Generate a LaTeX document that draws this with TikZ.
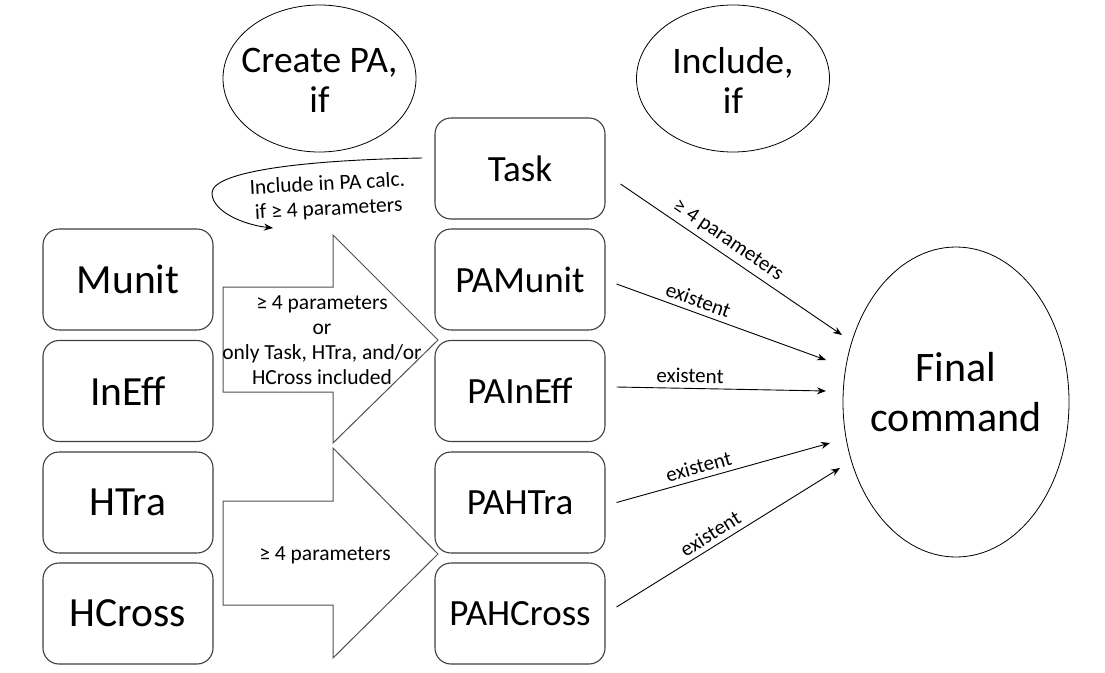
\documentclass[tikz,border=0pt]{standalone}
\usepackage{fontspec}
\setmainfont{Carlito}
\usetikzlibrary{shapes.geometric,arrows.meta,calc}
\definecolor{boxgray}{HTML}{404040}
\definecolor{arrgray}{HTML}{505050}
\begin{document}
\begin{tikzpicture}[x=1pt,y=-1pt,
  box/.style={draw=boxgray, line width=1.1pt, rounded corners=16pt, minimum width=170pt, minimum height=101pt, inner sep=0pt},
  lbox/.style={box, font=\fontsize{41.5}{48}\selectfont},
  mbox/.style={box, font=\fontsize{37}{42}\selectfont},
  bigarrow/.style={draw=arrgray, line width=1pt},
  small/.style={font=\fontsize{21.5}{25}\selectfont, align=center},
  conn/.style={-{Stealth[length=9pt,width=7pt]}, line width=0.9pt},
  lab/.style={font=\fontsize{21}{24}\selectfont, sloped, above=3pt, inner sep=2pt},
  oval/.style={ellipse, draw, line width=0.8pt, inner sep=0pt}
]
\useasboundingbox (0,0) rectangle (1105,672);
\fill[white] (0,0) rectangle (1105,672);

% top ellipses
\node[oval, minimum width=193pt, minimum height=147pt] (create) at (319.5,78.5) {};
\node[font=\fontsize{37.5}{40}\selectfont, align=center] (createtxt) at (319.5,80) {Create PA,\\if};
\node[oval, minimum width=193pt, minimum height=147pt] (include) at (733,78.5) {};
\node[font=\fontsize{37.5}{40}\selectfont, align=center] (includetxt) at (733,80) {Include,\\if};

% left boxes
\node[lbox] (munit) at (128,279.5) {Munit};
\node[lbox] (ineff) at (128,391) {InEff};
\node[lbox] (htra) at (128,502.5) {HTra};
\node[lbox] (hcross) at (128,613.5) {HCross};

% middle boxes
\node[mbox] (task) at (520,168.5) {Task};
\node[mbox] (pamunit) at (520,279.5) {PAMunit};
\node[mbox] (paineff) at (520,391) {PAInEff};
\node[mbox] (pahtra) at (520,502.5) {PAHTra};
\node[mbox] (pahcross) at (520,613.5) {PAHCross};

% big arrows
\draw[bigarrow] (223,287) -- (333,287) -- (333,235) -- (438,340) -- (333,443) -- (333,392) -- (223,392) -- cycle;
\draw[bigarrow] (223,501) -- (333,501) -- (333,448) -- (438,554) -- (333,658) -- (333,605) -- (223,605) -- cycle;
\node[small] (cond1) at (322,340) {≥ 4 parameters\\or\\only Task, HTra, and/or\\HCross included};
\node[small] (cond2) at (325,555) {≥ 4 parameters};

% final ellipse
\node[oval, minimum width=226pt, minimum height=310pt] (final) at (956,402) {};
\node[font=\fontsize{42}{50}\selectfont, align=center] (finaltxt) at (956,392) {Final\\command};

% curved include arrow
\coordinate (inclend) at (273,228);
\draw[-{Stealth[length=9pt,width=7pt]}, line width=0.9pt]
  ($(task.west)+(-12,-10.5)$) .. controls (300,160) and (212,172) .. (212,193)
  .. controls (212,212) and (245,225) .. (inclend);
\node[small, rotate=3] (incltxt) at (328,197) {Include in PA calc.\\if ≥ 4 parameters};

% connectors to final
\draw[conn] ($(task.east)+(15,15.5)$) -- node[lab, pos=0.45] {≥ 4 parameters} ($(final.center)+(-114,-67)$);
\draw[conn] ($(pamunit.east)+(11,4.5)$) -- node[lab, pos=0.37] {existent} ($(final.center)+(-130,-42)$);
\draw[conn] ($(paineff.east)+(11,-4)$) -- node[lab, pos=0.35] {existent} ($(final.center)+(-130,-11)$);
\draw[conn] ($(pahtra.east)+(11,0)$) -- node[lab, pos=0.4] {existent} ($(final.center)+(-126,41)$);
\draw[conn] ($(pahcross.east)+(11,-6.5)$) -- node[lab, pos=0.45] {existent} ($(final.center)+(-116,66)$);
\end{tikzpicture}
\end{document}
